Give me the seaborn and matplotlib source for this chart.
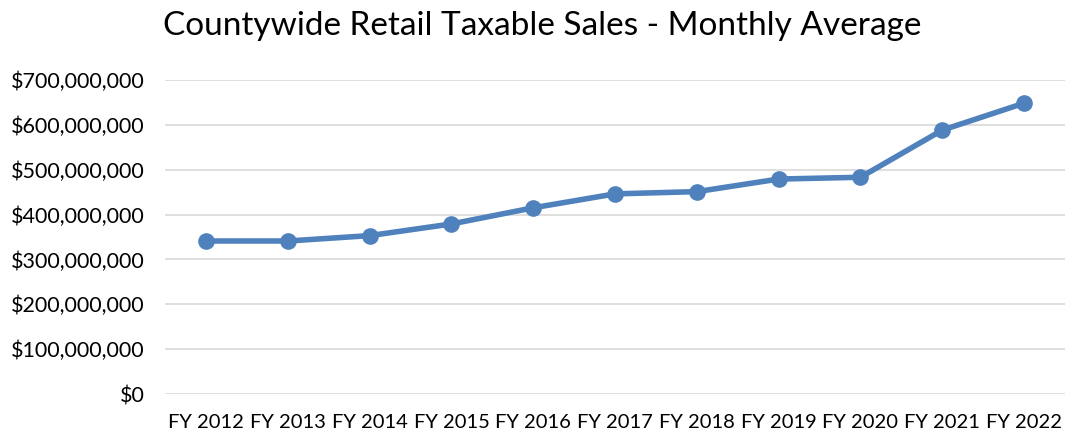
import matplotlib.pyplot as plt
import seaborn as sns
from matplotlib.ticker import FuncFormatter, MultipleLocator

fiscal_years = ["FY 2012", "FY 2013", "FY 2014", "FY 2015", "FY 2016", "FY 2017",
                "FY 2018", "FY 2019", "FY 2020", "FY 2021", "FY 2022"]
monthly_avg = [341_000_000, 341_000_000, 353_000_000, 379_000_000, 415_000_000,
               446_000_000, 451_000_000, 479_000_000, 483_000_000, 588_000_000,
               648_000_000]

sns.set_theme(style="white")
plt.rcParams["font.family"] = ["Lato", "DejaVu Sans"]

fig = plt.figure(figsize=(10.66, 4.34), dpi=100)
ax = fig.add_axes([0.155, 0.092, 0.844, 0.724])

sns.lineplot(x=fiscal_years, y=monthly_avg, ax=ax, color="#4F81BD",
             linewidth=4, marker="o", markersize=12, markeredgewidth=0)

ax.set_xlim(-0.5, len(fiscal_years) - 0.5)
ax.set_ylim(0, 700_000_000)
ax.yaxis.set_major_locator(MultipleLocator(100_000_000))
ax.yaxis.set_major_formatter(FuncFormatter(lambda v, _: f"${v:,.0f}"))
ax.grid(axis="y", color="#D9D9D9", linewidth=1.2)
ax.set_axisbelow(True)
ax.tick_params(axis="both", length=0, colors="#000000")
ax.tick_params(axis="x", pad=14, labelsize=14.5)
ax.tick_params(axis="y", pad=15, labelsize=15.5)
sns.despine(ax=ax, left=True, bottom=True)

fig.suptitle("Countywide Retail Taxable Sales - Monthly Average",
             x=0.509, y=0.975, fontsize=24, color="#000000")

fig.savefig("out.png", dpi=100)
